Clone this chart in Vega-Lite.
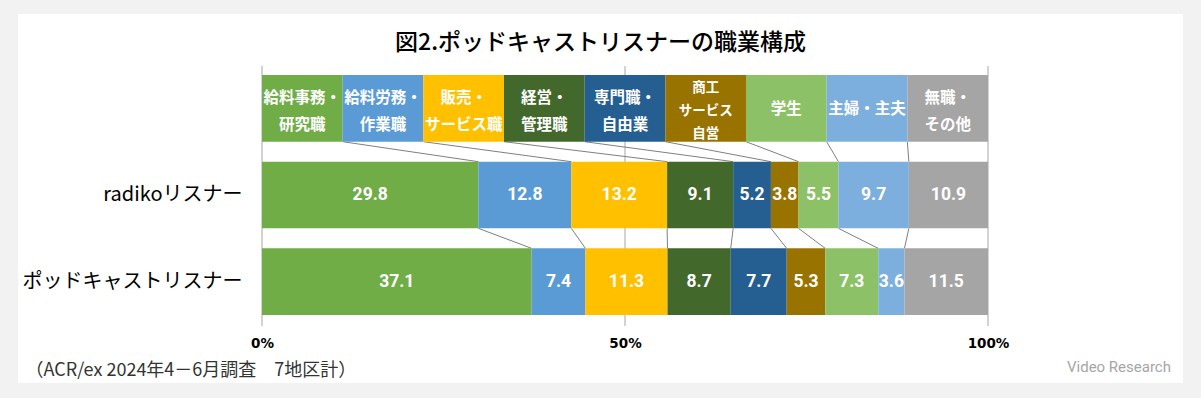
{
  "$schema": "https://vega.github.io/schema/vega-lite/v6.json",
  "width": 1165,
  "height": 369,
  "autosize": {"type": "none"},
  "padding": {"left": 18, "top": 14, "right": 18, "bottom": 15},
  "background": "#f2f2f2",
  "config": {"view": {"fill": "white", "stroke": null}},
  "title": {
    "text": "図2.ポッドキャストリスナーの職業構成",
    "font": "Noto Sans CJK JP",
    "fontSize": 23,
    "fontWeight": 500,
    "color": "#000000",
    "anchor": "middle",
    "frame": "group",
    "baseline": "middle",
    "offset": -52
  },
  "datasets": {
    "shares": [
      {"row": "職業", "cat": "給料事務・研究職", "o": 1, "v": 1, "label": "給料事務・\n研究職"},
      {"row": "職業", "cat": "給料労務・作業職", "o": 2, "v": 1, "label": "給料労務・\n作業職"},
      {"row": "職業", "cat": "販売・サービス職", "o": 3, "v": 1, "label": "販売・\nサービス職"},
      {"row": "職業", "cat": "経営・管理職", "o": 4, "v": 1, "label": "経営・\n管理職"},
      {"row": "職業", "cat": "専門職・自由業", "o": 5, "v": 1, "label": "専門職・\n自由業"},
      {"row": "職業", "cat": "商工サービス自営", "o": 6, "v": 1, "label": "商工\nサービス\n自営"},
      {"row": "職業", "cat": "学生", "o": 7, "v": 1, "label": "学生"},
      {"row": "職業", "cat": "主婦・主夫", "o": 8, "v": 1, "label": "主婦・主夫"},
      {"row": "職業", "cat": "無職・その他", "o": 9, "v": 1, "label": "無職・\nその他"},
      {"row": "radikoリスナー", "cat": "給料事務・研究職", "o": 1, "v": 29.8},
      {"row": "radikoリスナー", "cat": "給料労務・作業職", "o": 2, "v": 12.8},
      {"row": "radikoリスナー", "cat": "販売・サービス職", "o": 3, "v": 13.2},
      {"row": "radikoリスナー", "cat": "経営・管理職", "o": 4, "v": 9.1},
      {"row": "radikoリスナー", "cat": "専門職・自由業", "o": 5, "v": 5.2},
      {"row": "radikoリスナー", "cat": "商工サービス自営", "o": 6, "v": 3.8},
      {"row": "radikoリスナー", "cat": "学生", "o": 7, "v": 5.5},
      {"row": "radikoリスナー", "cat": "主婦・主夫", "o": 8, "v": 9.7},
      {"row": "radikoリスナー", "cat": "無職・その他", "o": 9, "v": 10.9},
      {"row": "ポッドキャストリスナー", "cat": "給料事務・研究職", "o": 1, "v": 37.1},
      {"row": "ポッドキャストリスナー", "cat": "給料労務・作業職", "o": 2, "v": 7.4},
      {"row": "ポッドキャストリスナー", "cat": "販売・サービス職", "o": 3, "v": 11.3},
      {"row": "ポッドキャストリスナー", "cat": "経営・管理職", "o": 4, "v": 8.7},
      {"row": "ポッドキャストリスナー", "cat": "専門職・自由業", "o": 5, "v": 7.7},
      {"row": "ポッドキャストリスナー", "cat": "商工サービス自営", "o": 6, "v": 5.3},
      {"row": "ポッドキャストリスナー", "cat": "学生", "o": 7, "v": 7.3},
      {"row": "ポッドキャストリスナー", "cat": "主婦・主夫", "o": 8, "v": 3.6},
      {"row": "ポッドキャストリスナー", "cat": "無職・その他", "o": 9, "v": 11.5}
    ],
    "grid": [{"p": 0}, {"p": 0.5}, {"p": 1}],
    "logo": [{"t": "Video Research"}]
  },
  "layer": [
    {
      "data": {"name": "grid"},
      "mark": {"type": "rule", "color": "#a6a6a6", "strokeWidth": 1, "yOffset": -42.3, "y2Offset": 44.3},
      "encoding": {
        "x": {"field": "p", "type": "quantitative"},
        "y": {"datum": "職業", "type": "nominal"},
        "y2": {"datum": "ポッドキャストリスナー"}
      }
    },
    {
      "data": {"name": "shares"},
      "transform": [
        {"stack": "v", "groupby": ["row"], "sort": [{"field": "o", "order": "ascending"}], "offset": "normalize", "as": ["s0", "s1"]},
        {"pivot": "row", "value": "s1", "groupby": ["cat", "o"]},
        {"filter": "datum.o < 9"}
      ],
      "mark": {"type": "rule", "color": "#7f7f7f", "strokeWidth": 1, "yOffset": 33.33, "y2Offset": -33.33},
      "encoding": {
        "x": {"field": "職業", "type": "quantitative"},
        "x2": {"field": "radikoリスナー"},
        "y": {"datum": "職業", "type": "nominal"},
        "y2": {"datum": "radikoリスナー"}
      }
    },
    {
      "data": {"name": "shares"},
      "transform": [
        {"stack": "v", "groupby": ["row"], "sort": [{"field": "o", "order": "ascending"}], "offset": "normalize", "as": ["s0", "s1"]},
        {"pivot": "row", "value": "s1", "groupby": ["cat", "o"]},
        {"filter": "datum.o < 9"}
      ],
      "mark": {"type": "rule", "color": "#7f7f7f", "strokeWidth": 1, "yOffset": 33.33, "y2Offset": -33.33},
      "encoding": {
        "x": {"field": "radikoリスナー", "type": "quantitative"},
        "x2": {"field": "ポッドキャストリスナー"},
        "y": {"datum": "radikoリスナー", "type": "nominal"},
        "y2": {"datum": "ポッドキャストリスナー"}
      }
    },
    {
      "data": {"name": "shares"},
      "transform": [
        {"stack": "v", "groupby": ["row"], "sort": [{"field": "o", "order": "ascending"}], "offset": "normalize", "as": ["s0", "s1"]}
      ],
      "mark": {"type": "bar"},
      "encoding": {
        "x": {
          "field": "s0", "type": "quantitative",
          "scale": {"domain": [-0.3361, 1.2686], "nice": false, "zero": false},
          "axis": {
            "orient": "bottom", "offset": -57, "values": [0, 0.5, 1], "format": ".0%",
            "domain": false, "ticks": false, "grid": false, "labelFlush": false,
            "labelFont": "DejaVu Sans", "labelFontWeight": "bold", "labelFontSize": 13.5, "labelColor": "#000000",
            "labelPadding": 10,
            "title": "（ACR/ex 2024年4－6月調査　7地区計）",
            "titleFont": "Noto Sans CJK JP", "titleFontSize": 18, "titleFontWeight": "normal", "titleColor": "#333333",
            "titleAlign": "left", "titleX": 7, "titleY": 44, "titleBaseline": "middle", "titleAnchor": "start"
          }
        },
        "x2": {"field": "s1"},
        "y": {
          "field": "row", "type": "nominal",
          "scale": {"domain": ["職業", "radikoリスナー", "ポッドキャストリスナー"], "paddingInner": 0.2308, "paddingOuter": 0.7442, "align": 0.473},
          "axis": {
            "orient": "left", "offset": -244, "domain": false, "ticks": false, "grid": false,
            "labelPadding": 20, "labelFont": "Noto Sans CJK JP", "labelFontSize": 20, "labelFontWeight": "normal",
            "labelColor": "#000000", "title": null, "labelLimit": 0,
            "labelExpr": "datum.value == '職業' ? '' : datum.value"
          }
        },
        "color": {
          "field": "cat", "type": "nominal", "legend": null,
          "scale": {
            "domain": ["給料事務・研究職", "給料労務・作業職", "販売・サービス職", "経営・管理職", "専門職・自由業", "商工サービス自営", "学生", "主婦・主夫", "無職・その他"],
            "range": ["#70ad47", "#5b9bd5", "#ffc000", "#43682b", "#255e91", "#997300", "#8cc168", "#7cafdd", "#a5a5a5"]
          }
        }
      }
    },
    {
      "data": {"name": "shares"},
      "transform": [
        {"stack": "v", "groupby": ["row"], "sort": [{"field": "o", "order": "ascending"}], "offset": "normalize", "as": ["s0", "s1"]},
        {"filter": "datum.row != '職業'"},
        {"calculate": "(datum.s0 + datum.s1) / 2", "as": "mid"}
      ],
      "mark": {"type": "text", "color": "#ffffff", "font": "Roboto", "fontWeight": "bold", "fontSize": 17.5, "baseline": "middle", "align": "center"},
      "encoding": {
        "x": {"field": "mid", "type": "quantitative"},
        "y": {"field": "row", "type": "nominal"},
        "text": {"field": "v", "type": "quantitative", "format": ".1f"}
      }
    },
    {
      "data": {"name": "shares"},
      "transform": [
        {"stack": "v", "groupby": ["row"], "sort": [{"field": "o", "order": "ascending"}], "offset": "normalize", "as": ["s0", "s1"]},
        {"filter": "datum.row == '職業' && datum.o != 6 && datum.o != 7 && datum.o != 8"},
        {"calculate": "(datum.s0 + datum.s1) / 2", "as": "mid"}
      ],
      "mark": {"type": "text", "color": "#ffffff", "font": "Noto Sans CJK JP", "fontWeight": "bold", "fontSize": 15.5, "lineHeight": 26.6, "lineBreak": "\n", "baseline": "middle", "align": "center", "dy": -10},
      "encoding": {
        "x": {"field": "mid", "type": "quantitative"},
        "y": {"field": "row", "type": "nominal"},
        "text": {"field": "label", "type": "nominal"}
      }
    },
    {
      "data": {"name": "shares"},
      "transform": [
        {"stack": "v", "groupby": ["row"], "sort": [{"field": "o", "order": "ascending"}], "offset": "normalize", "as": ["s0", "s1"]},
        {"filter": "datum.row == '職業' && (datum.o == 7 || datum.o == 8)"},
        {"calculate": "(datum.s0 + datum.s1) / 2", "as": "mid"}
      ],
      "mark": {"type": "text", "color": "#ffffff", "font": "Noto Sans CJK JP", "fontWeight": "bold", "fontSize": 15.5, "baseline": "middle", "align": "center", "dy": 1},
      "encoding": {
        "x": {"field": "mid", "type": "quantitative"},
        "y": {"field": "row", "type": "nominal"},
        "text": {"field": "label", "type": "nominal"}
      }
    },
    {
      "data": {"name": "shares"},
      "transform": [
        {"stack": "v", "groupby": ["row"], "sort": [{"field": "o", "order": "ascending"}], "offset": "normalize", "as": ["s0", "s1"]},
        {"filter": "datum.row == '職業' && datum.o == 6"},
        {"calculate": "(datum.s0 + datum.s1) / 2", "as": "mid"}
      ],
      "mark": {"type": "text", "color": "#ffffff", "font": "Noto Sans CJK JP", "fontWeight": "bold", "fontSize": 13.5, "lineHeight": 23, "lineBreak": "\n", "baseline": "middle", "align": "center", "dy": -20},
      "encoding": {
        "x": {"field": "mid", "type": "quantitative"},
        "y": {"field": "row", "type": "nominal"},
        "text": {"field": "label", "type": "nominal"}
      }
    },
    {
      "data": {"name": "logo"},
      "mark": {"type": "text", "color": "#a6a6a6", "font": "Roboto", "fontSize": 15, "align": "left", "baseline": "middle", "yOffset": 85.3},
      "encoding": {
        "x": {"datum": 1.1088, "type": "quantitative"},
        "y": {"datum": "ポッドキャストリスナー", "type": "nominal"},
        "text": {"field": "t", "type": "nominal"}
      }
    }
  ]
}
